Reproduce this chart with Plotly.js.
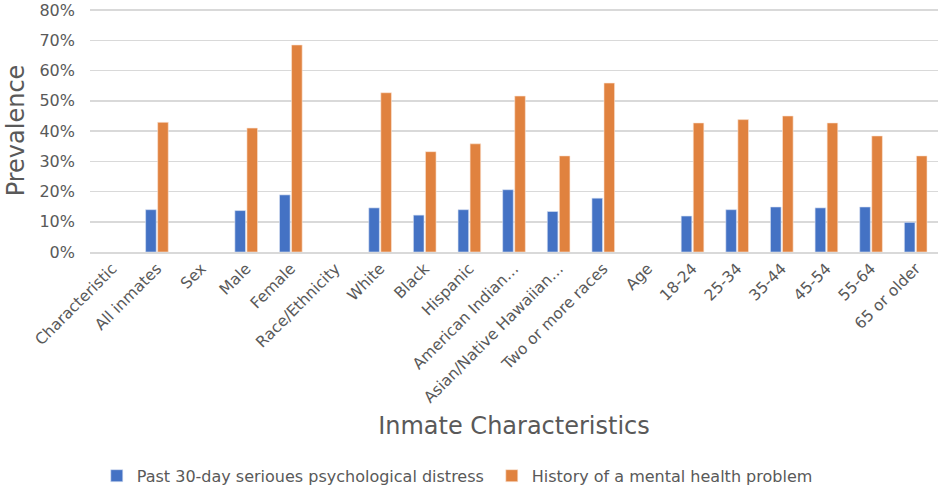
<!DOCTYPE html>
<html>
<head>
<meta charset="utf-8">
<script src="https://cdn.plot.ly/plotly-3.0.1.min.js"></script>
<style>html,body{margin:0;padding:0;background:#fff;}#chart{width:940px;height:487px;}</style>
</head>
<body>
<div id="chart"></div>
<script>
const categories = ["Characteristic","All inmates","Sex","Male","Female","Race/Ethnicity","White","Black","Hispanic","American Indian…","Asian/Native Hawaiian…","Two or more races","Age","18-24","25-34","35-44","45-54","55-64","65 or older"];
const distress = [null,14.0,null,13.7,18.9,null,14.6,12.2,14.0,20.6,13.4,17.8,null,11.9,14.0,14.9,14.6,14.9,9.8];
const mentalHealth = [null,42.9,null,41.0,68.5,null,52.7,33.2,35.8,51.6,31.8,55.9,null,42.7,43.8,45.0,42.7,38.4,31.8];
const seriesNames = ["Past 30-day serioues psychological distress","History of a mental health problem"];

const font = "DejaVu Sans, Verdana, sans-serif";
const grey = "#595959";

const traces = [
  {type:"bar", x:categories, y:distress, name:seriesNames[0], marker:{color:"#4472c4", line:{color:"#dae3f3", width:0.6}}},
  {type:"bar", x:categories, y:mentalHealth, name:seriesNames[1], marker:{color:"#e0823f", line:{color:"#fbe5d6", width:0.6}}}
];

const layout = {
  width:940, height:487,
  margin:{l:90, r:2, t:9, b:235},
  paper_bgcolor:"#fff", plot_bgcolor:"#fff",
  font:{family:font, color:grey, size:14},
  barmode:"group", bargap:0.46, bargroupgap:0.12,
  showlegend:true,
  legend:{orientation:"h", yref:"container", x:0.008, y:0.023, xanchor:"left", yanchor:"middle", bgcolor:"rgba(0,0,0,0)", font:{size:16, color:grey}, entrywidth:350, itemwidth:30, traceorder:"normal"},
  xaxis:{
    type:"category", tickangle:-45, tickfont:{size:15.5, color:grey},
    showgrid:false, showline:true, linecolor:"#d9d9d9", linewidth:1.5, ticks:"", automargin:false,
    title:{text:"Inmate Characteristics", font:{size:24, color:grey}, standoff:11}
  },
  yaxis:{
    range:[0,80.4], tick0:0, dtick:10, ticksuffix:"%", tickfont:{size:16, color:grey}, ticklabelstandoff:14, ticklabeloverflow:"allow",
    gridcolor:"#d9d9d9", gridwidth:1.5, zeroline:false, showline:false, automargin:false,
    title:{text:"Prevalence", font:{size:24, color:grey}, standoff:8}
  }
};

Plotly.newPlot("chart", traces, layout, {displayModeBar:false, staticPlot:true});
</script>
</body>
</html>
